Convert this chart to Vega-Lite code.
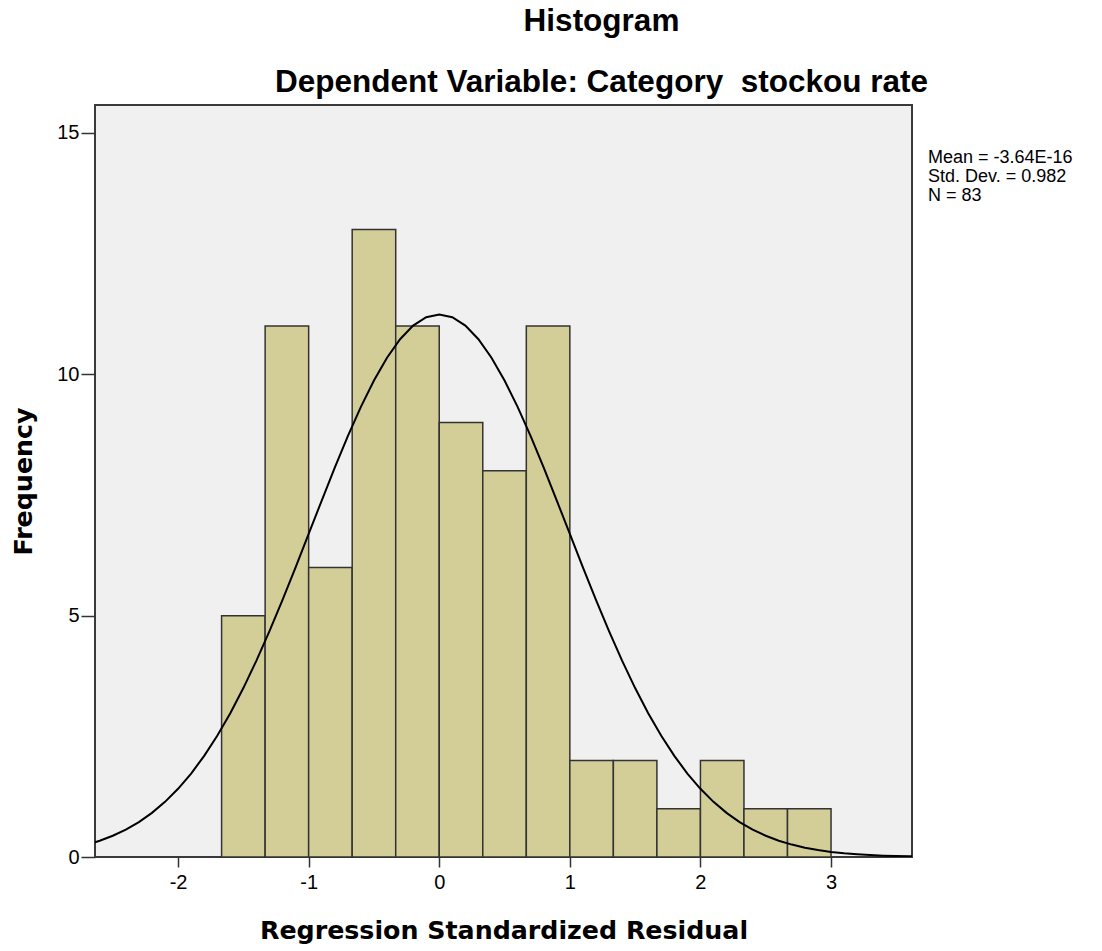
{
  "$schema": "https://vega.github.io/schema/vega-lite/v6.json",
  "width": 817,
  "height": 752,
  "autosize": {"type": "none"},
  "padding": {"left": 95, "top": 105, "right": 190, "bottom": 94},
  "background": "white",
  "config": {
    "view": {"fill": "#f0f0f0", "stroke": "#3a3a3a", "strokeWidth": 2},
    "font": "Liberation Sans"
  },
  "title": {
    "text": ["Histogram", "Dependent Variable: Category\u00a0 stockou rate"],
    "lineHeight": 61,
    "anchor": "middle",
    "frame": "group",
    "dx": 98,
    "offset": 7,
    "font": "Liberation Sans",
    "fontSize": 31.5,
    "fontWeight": "bold",
    "color": "#000000"
  },
  "datasets": {
    "bars": [
      {"lo": -1.6667, "hi": -1.3333, "count": 5},
      {"lo": -1.3333, "hi": -1.0, "count": 11},
      {"lo": -1.0, "hi": -0.6667, "count": 6},
      {"lo": -0.6667, "hi": -0.3333, "count": 13},
      {"lo": -0.3333, "hi": 0.0, "count": 11},
      {"lo": 0.0, "hi": 0.3333, "count": 9},
      {"lo": 0.3333, "hi": 0.6667, "count": 8},
      {"lo": 0.6667, "hi": 1.0, "count": 11},
      {"lo": 1.0, "hi": 1.3333, "count": 2},
      {"lo": 1.3333, "hi": 1.6667, "count": 2},
      {"lo": 1.6667, "hi": 2.0, "count": 1},
      {"lo": 2.0, "hi": 2.3333, "count": 2},
      {"lo": 2.3333, "hi": 2.6667, "count": 1},
      {"lo": 2.6667, "hi": 3.0, "count": 1}
    ],
    "curve": [
      {"x": -2.636, "y": 0.306},
      {"x": -2.6, "y": 0.338},
      {"x": -2.5, "y": 0.440},
      {"x": -2.4, "y": 0.567},
      {"x": -2.3, "y": 0.724},
      {"x": -2.2, "y": 0.914},
      {"x": -2.1, "y": 1.142},
      {"x": -2.0, "y": 1.413},
      {"x": -1.9, "y": 1.729},
      {"x": -1.8, "y": 2.095},
      {"x": -1.7, "y": 2.512},
      {"x": -1.6, "y": 2.980},
      {"x": -1.5, "y": 3.500},
      {"x": -1.4, "y": 4.068},
      {"x": -1.3, "y": 4.680},
      {"x": -1.2, "y": 5.327},
      {"x": -1.1, "y": 6.002},
      {"x": -1.0, "y": 6.693},
      {"x": -0.9, "y": 7.385},
      {"x": -0.8, "y": 8.066},
      {"x": -0.7, "y": 8.718},
      {"x": -0.6, "y": 9.326},
      {"x": -0.5, "y": 9.873},
      {"x": -0.4, "y": 10.345},
      {"x": -0.3, "y": 10.728},
      {"x": -0.2, "y": 11.009},
      {"x": -0.1, "y": 11.182},
      {"x": 0.0, "y": 11.240},
      {"x": 0.1, "y": 11.182},
      {"x": 0.2, "y": 11.009},
      {"x": 0.3, "y": 10.728},
      {"x": 0.4, "y": 10.345},
      {"x": 0.5, "y": 9.873},
      {"x": 0.6, "y": 9.326},
      {"x": 0.7, "y": 8.718},
      {"x": 0.8, "y": 8.066},
      {"x": 0.9, "y": 7.385},
      {"x": 1.0, "y": 6.693},
      {"x": 1.1, "y": 6.002},
      {"x": 1.2, "y": 5.327},
      {"x": 1.3, "y": 4.680},
      {"x": 1.4, "y": 4.068},
      {"x": 1.5, "y": 3.500},
      {"x": 1.6, "y": 2.980},
      {"x": 1.7, "y": 2.512},
      {"x": 1.8, "y": 2.095},
      {"x": 1.9, "y": 1.729},
      {"x": 2.0, "y": 1.413},
      {"x": 2.1, "y": 1.142},
      {"x": 2.2, "y": 0.914},
      {"x": 2.3, "y": 0.724},
      {"x": 2.4, "y": 0.567},
      {"x": 2.5, "y": 0.440},
      {"x": 2.6, "y": 0.338},
      {"x": 2.7, "y": 0.257},
      {"x": 2.8, "y": 0.193},
      {"x": 2.9, "y": 0.144},
      {"x": 3.0, "y": 0.106},
      {"x": 3.1, "y": 0.077},
      {"x": 3.2, "y": 0.056},
      {"x": 3.3, "y": 0.040},
      {"x": 3.4, "y": 0.028},
      {"x": 3.5, "y": 0.020},
      {"x": 3.6, "y": 0.014},
      {"x": 3.62, "y": 0.013}
    ],
    "stats": [
      {"label": ["Mean = -3.64E-16", "Std. Dev. = 0.982", "N = 83"]}
    ]
  },
  "layer": [
    {
      "data": {"name": "bars"},
      "mark": {"type": "bar", "fill": "#d3ce97", "stroke": "#333333", "strokeWidth": 1.5},
      "encoding": {
        "x": {
          "field": "lo", "type": "quantitative",
          "scale": {"domain": [-2.636, 3.62], "nice": false, "zero": false},
          "axis": {
            "values": [-2, -1, 0, 1, 2, 3],
            "labelExpr": "datum.value < 0 ? '-' + abs(datum.value) : '' + datum.value",
            "title": "Regression Standardized Residual",
            "titleFont": "DejaVu Sans", "titleFontSize": 25.3, "titleFontWeight": "bold", "titleColor": "#000000",
            "titlePadding": 26,
            "labelFont": "Liberation Sans", "labelFontSize": 20, "labelColor": "#000000",
            "labelPadding": 5,
            "tickSize": 10, "tickColor": "#333333", "tickWidth": 1.5,
            "domain": false, "grid": false
          }
        },
        "x2": {"field": "hi"},
        "y": {
          "field": "count", "type": "quantitative",
          "scale": {"domain": [0, 15.58], "nice": false},
          "axis": {
            "values": [0, 5, 10, 15],
            "title": "Frequency",
            "titleFont": "DejaVu Sans", "titleFontSize": 25.3, "titleFontWeight": "bold", "titleColor": "#000000",
            "titlePadding": 20,
            "labelFont": "Liberation Sans", "labelFontSize": 20, "labelColor": "#000000",
            "labelPadding": 2,
            "tickSize": 14, "tickColor": "#333333", "tickWidth": 1.5,
            "domain": false, "grid": false
          }
        },
        "y2": {"datum": 0}
      }
    },
    {
      "data": {"name": "curve"},
      "mark": {"type": "line", "color": "#000000", "strokeWidth": 2, "clip": true},
      "encoding": {
        "x": {"field": "x", "type": "quantitative"},
        "y": {"field": "y", "type": "quantitative"}
      }
    },
    {
      "data": {"name": "stats"},
      "mark": {"type": "text", "align": "left", "baseline": "alphabetic", "font": "Liberation Sans", "fontSize": 18, "lineHeight": 19, "color": "#000000"},
      "encoding": {
        "x": {"datum": 3.7425, "type": "quantitative"},
        "y": {"datum": 14.37, "type": "quantitative"},
        "text": {"field": "label"}
      }
    }
  ]
}
